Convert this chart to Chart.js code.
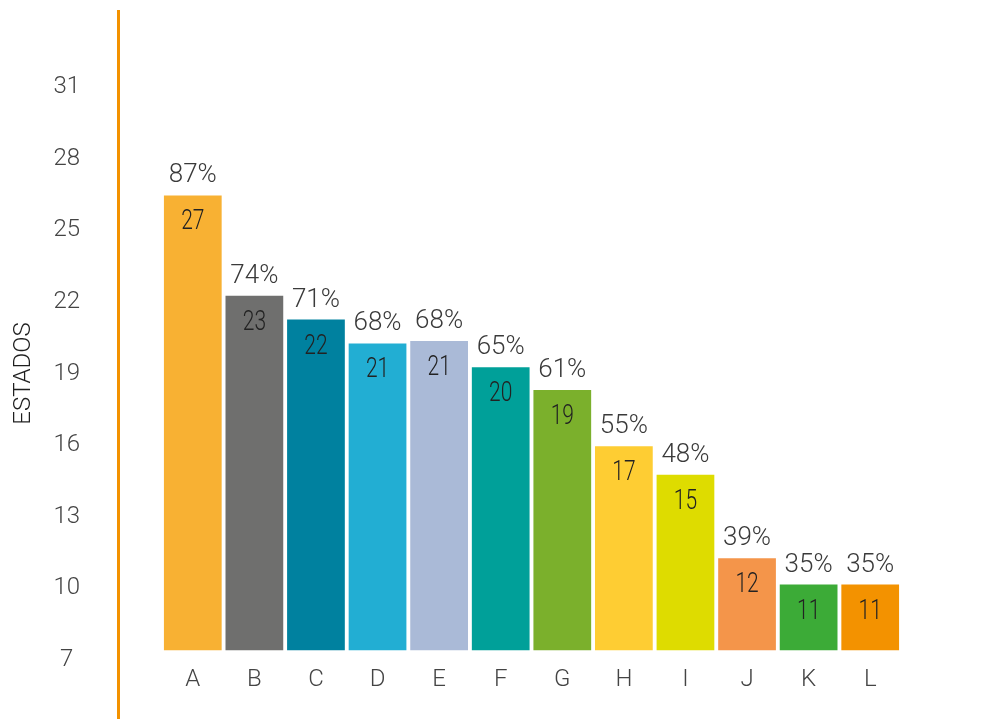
<!DOCTYPE html>
<html>
<head>
<meta charset="utf-8">
<script src="https://cdn.jsdelivr.net/npm/chart.js@4.4.1/dist/chart.umd.min.js"></script>
<style>
  html, body { margin: 0; padding: 0; background: #fff; }
  #wrap { width: 987px; height: 719px; }
</style>
</head>
<body>
<div id="wrap"><canvas id="chart"></canvas></div>
<script>
// data
const categories = ['A', 'B', 'C', 'D', 'E', 'F', 'G', 'H', 'I', 'J', 'K', 'L'];
// bar heights as drawn, in axis units
const barHeights = [26.5, 22.3, 21.3, 20.3, 20.4, 19.3, 18.35, 16.0, 14.8, 11.3, 10.2, 10.2];
const counts = [27, 23, 22, 21, 21, 20, 19, 17, 15, 12, 11, 11];
const percents = ['87%', '74%', '71%', '68%', '68%', '65%', '61%', '55%', '48%', '39%', '35%', '35%'];
const yTicks = [7, 10, 13, 16, 19, 22, 25, 28, 31];
const barColors = ['#F8B133', '#6F6F6E', '#00819F', '#22AED3', '#AABAD7', '#00A099', '#7BB02C',
  '#FECD33', '#DEDC00', '#F4954A', '#3CAB37', '#F39200'];

const thin = 'Roboto, "Liberation Sans", sans-serif';

// labels on the bars + the orange axis line
const barLabels = {
  id: 'barLabels',
  beforeDraw(chart) {
    const c = chart.ctx;
    const x = chart.chartArea.left - 43.5;
    c.save();
    c.fillStyle = '#F39200';
    c.fillRect(x - 1.5, 10, 3, chart.height - 10);
    c.restore();
  },
  afterDatasetsDraw(chart) {
    const c = chart.ctx;
    const meta = chart.getDatasetMeta(0);
    c.save();
    c.textAlign = 'center';
    meta.data.forEach((bar, i) => {
      c.font = '300 26px ' + thin;
      c.fillStyle = '#3a3a3a';
      c.textBaseline = 'alphabetic';
      c.fillText(percents[i], bar.x, bar.y - 12);
      // condensed look for the counts
      c.save();
      c.translate(bar.x, bar.y + 28);
      c.scale(0.75, 1);
      c.font = '300 28px ' + thin;
      c.fillStyle = '#222';
      c.textBaseline = 'middle';
      c.fillText(counts[i], 0, 0);
      c.restore();
    });
    c.restore();
  }
};

new Chart(document.getElementById('chart'), {
  type: 'bar',
  data: {
    labels: categories,
    datasets: [{
      data: barHeights,
      base: 7.4,
      backgroundColor: barColors,
      borderColor: 'rgba(255,255,255,0.35)',
      borderWidth: 1,
      barPercentage: 0.97,
      categoryPercentage: 1
    }]
  },
  options: {
    responsive: true,
    maintainAspectRatio: false,
    animation: false,
    layout: { padding: { top: 87, right: 86, bottom: 0, left: 0 } },
    plugins: { legend: { display: false }, tooltip: { enabled: false } },
    scales: {
      x: {
        grid: { display: false, drawTicks: false },
        border: { display: false },
        ticks: { color: '#444', padding: 6, font: { family: thin, size: 24, weight: 300 } },
        afterFit(scale) { scale.height = 59; }
      },
      y: {
        min: 7,
        max: 31,
        afterBuildTicks(scale) { scale.ticks = yTicks.map(v => ({ value: v })); },
        grid: { display: false, drawTicks: false },
        border: { display: false },
        ticks: { color: '#444', padding: 82, crossAlign: 'center', font: { family: thin, size: 24, weight: 300 } },
        title: {
          display: true,
          text: 'ESTADOS',
          color: '#1e1e1e',
          padding: { top: 10, bottom: 0 },
          font: { family: thin, size: 24, weight: 300 }
        },
        afterFit(scale) {
          scale.width = 162;
          scale.paddingTop = 0;
          scale.paddingBottom = 0;
        }
      }
    }
  },
  plugins: [barLabels]
});
</script>
</body>
</html>
